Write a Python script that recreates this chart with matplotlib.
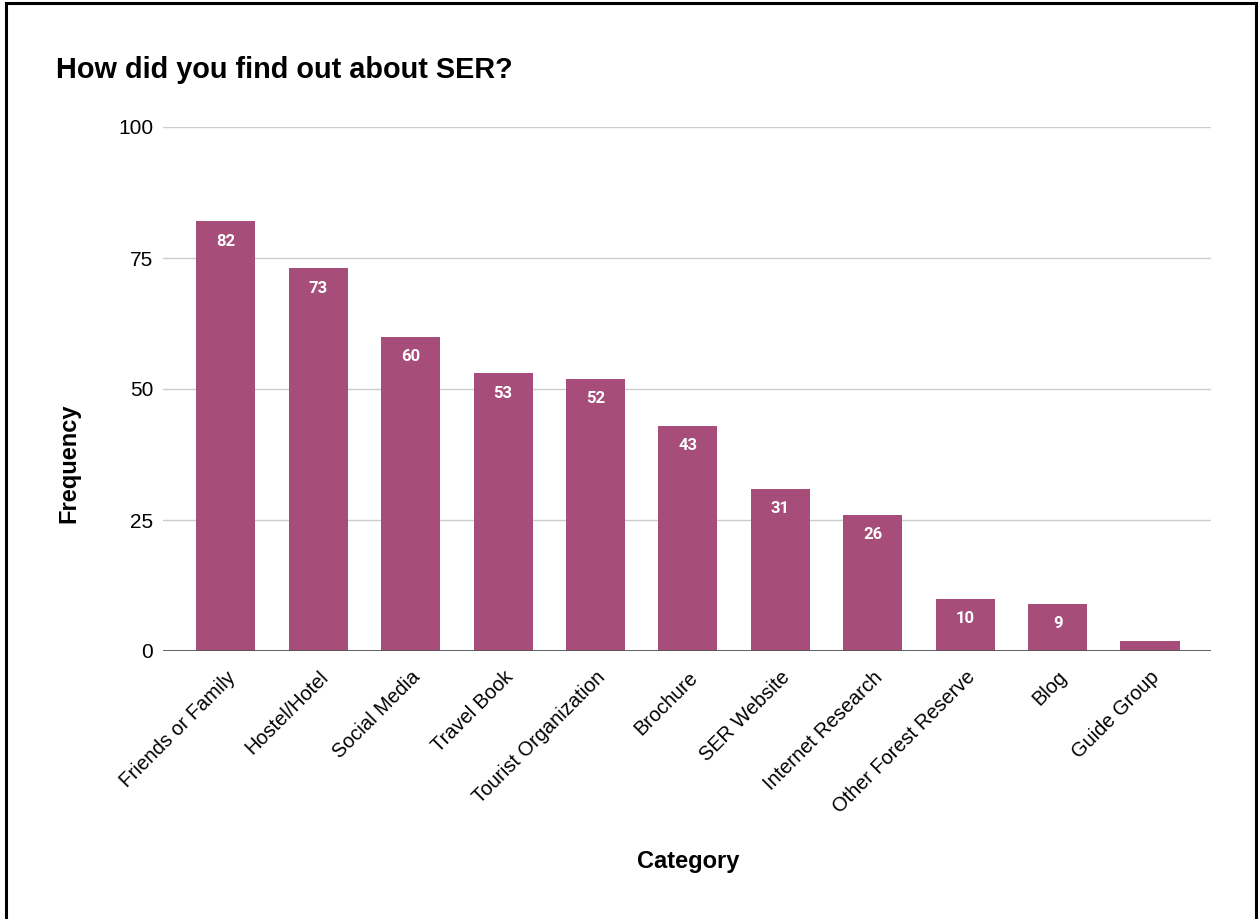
import matplotlib
matplotlib.use("Agg")
import matplotlib.pyplot as plt
from matplotlib.lines import Line2D

categories = ["Friends or Family", "Hostel/Hotel", "Social Media", "Travel Book",
              "Tourist Organization", "Brochure", "SER Website", "Internet Research",
              "Other Forest Reserve", "Blog", "Guide Group"]
values = [82, 73, 60, 53, 52, 43, 31, 26, 10, 9, 2]
yticks = [0, 25, 50, 75, 100]

plt.rcParams['font.family'] = ['Liberation Sans', 'DejaVu Sans']

W, H = 1259, 919
fig = plt.figure(figsize=(W/100, H/100), dpi=100)
ax = fig.add_axes([163/W, 1-651/H, (1211-163)/W, (651-127)/H])

bar_color = "#A64D79"
x = list(range(len(categories)))
bars = ax.bar(x, values, width=0.64, color=bar_color, zorder=3)
for xi, v in zip(x, values):
    if v >= 5:
        ax.text(xi, v - 2.4, str(v), ha='center', va='top', color='white',
                fontsize=12, fontweight='bold', family=['Roboto', 'DejaVu Sans'], zorder=4)

ax.set_xlim(-0.68, 10.66)
ax.set_ylim(0, 100)
ax.set_yticks(yticks)
ax.set_yticklabels([str(t) for t in yticks], fontsize=15)
ax.yaxis.grid(True, color="#cccccc", linewidth=1, zorder=0)
ax.axhline(0, color="#555555", linewidth=1.3, zorder=4)
ax.tick_params(axis='y', length=0, pad=7)
ax.set_xticks(x)
ax.set_xticklabels(categories, rotation=45, ha='right', rotation_mode='anchor', fontsize=14.4)
ax.tick_params(axis='x', length=0, pad=12)
for s in ax.spines.values():
    s.set_visible(False)

ax.set_ylabel("Frequency", fontsize=17, fontweight='bold')
ax.yaxis.set_label_coords(-(163-80)/(1211-163), (651-463)/(651-127))
ax.set_xlabel("Category", fontsize=17, fontweight='bold')
ax.xaxis.set_label_coords((688-163)/(1211-163), -(850-651)/(651-127))

fig.text(56/W, 1-70/H, "How did you find out about SER?", fontsize=20.8, fontweight='bold', va='center', ha='left')

# frame border
lw = 2.2
fig.add_artist(Line2D([6/W, 6/W], [0, 1-3/H], color='black', linewidth=lw, transform=fig.transFigure))
fig.add_artist(Line2D([1256/W, 1256/W], [0, 1-3/H], color='black', linewidth=lw, transform=fig.transFigure))
fig.add_artist(Line2D([6/W, 1256/W], [1-3/H, 1-3/H], color='black', linewidth=lw, transform=fig.transFigure))

fig.savefig("out.png", dpi=100)
